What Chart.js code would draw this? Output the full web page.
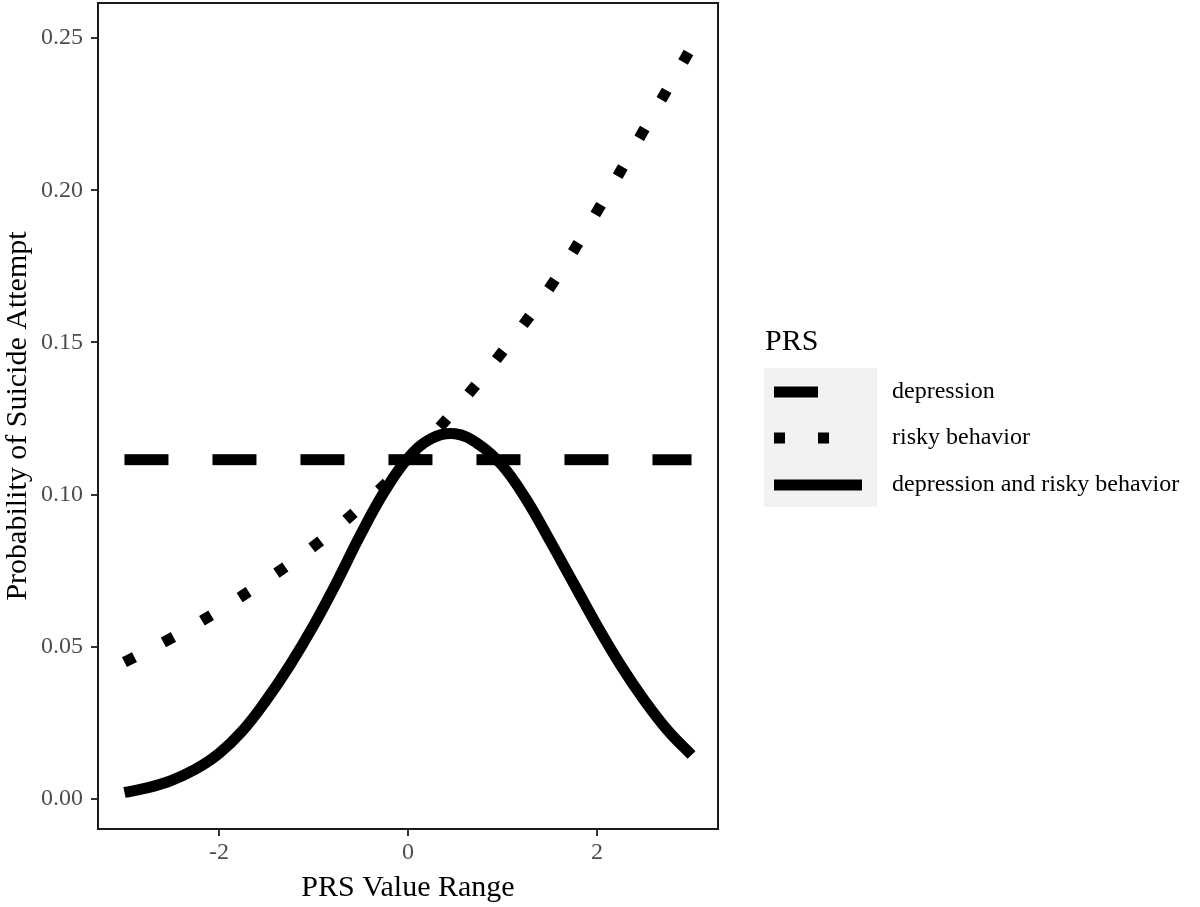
<!DOCTYPE html>
<html>
<head>
<meta charset="utf-8">
<script src="https://cdn.jsdelivr.net/npm/chart.js@4.4.1/dist/chart.umd.min.js"></script>
<style>
  html, body { margin: 0; padding: 0; background: #fff; }
  canvas { display: block; }
</style>
</head>
<body>
<canvas id="prsChart" width="1200" height="907"></canvas>
<script>
// values
const bothX = [-3, -2.75, -2.5, -2.25, -2, -1.75, -1.5, -1.25, -1, -0.75, -0.5, -0.25,
               0, 0.25, 0.5, 0.75, 1, 1.25, 1.5, 1.75, 2, 2.25, 2.5, 2.75, 3];
const bothValues = [0.0022, 0.0038, 0.0062, 0.0098, 0.0150, 0.0225, 0.0325, 0.044, 0.057, 0.0715, 0.087, 0.101,
                    0.112, 0.1185, 0.120, 0.1165, 0.1095, 0.0985, 0.085, 0.071, 0.057, 0.044, 0.0325, 0.0225, 0.0145];
const riskyX = [-3, -2.5, -2, -1.5, -1, -0.5, 0, 0.5, 1, 1.5, 2, 2.5, 3];
const riskyValues = [0.045, 0.053, 0.062, 0.072, 0.083, 0.096, 0.111, 0.128, 0.147, 0.168, 0.193, 0.220, 0.247];
const depressionX = [-3, 3];
const depressionValues = [0.1115, 0.1115];

const seriesLabels = ["depression", "risky behavior", "depression and risky behavior"];
const xTicks = [-2, 0, 2];
const yTicks = [0, 0.05, 0.10, 0.15, 0.20, 0.25];

const serif = '"Liberation Serif", "Times New Roman", serif';

function toPoints(xs, ys) {
    return xs.map((x, i) => ({ x: x, y: ys[i] }));
}

// full panel border, like theme_bw
const panelBorder = {
    id: "panelBorder",
    afterDraw(chart) {
        const { ctx, chartArea: a } = chart;
        ctx.save();
        ctx.strokeStyle = "#1a1a1a";
        ctx.lineWidth = 2;
        ctx.strokeRect(a.left, a.top, a.right - a.left, a.bottom - a.top);
        ctx.restore();
    }
};

// ggplot-style legend on the right
const sideLegend = {
    id: "sideLegend",
    afterDraw(chart) {
        const ctx = chart.ctx;
        ctx.save();
        ctx.fillStyle = "#000";
        ctx.font = "30px " + serif;
        ctx.textBaseline = "alphabetic";
        ctx.textAlign = "left";
        ctx.fillText("PRS", 765, 350);

        ctx.fillStyle = "#f2f2f2";
        ctx.fillRect(764, 368, 113, 139);

        const rows = [392, 438, 485];
        chart.data.datasets.forEach((ds, i) => {
            const y = rows[i];
            ctx.strokeStyle = ds.borderColor;
            ctx.lineWidth = ds.borderWidth;
            ctx.lineCap = "butt";
            ctx.setLineDash(ds.borderDash || []);
            ctx.beginPath();
            ctx.moveTo(774, y);
            ctx.lineTo(862, y);
            ctx.stroke();
            ctx.setLineDash([]);
            ctx.fillStyle = "#000";
            ctx.font = "24px " + serif;
            ctx.textBaseline = "middle";
            ctx.fillText(ds.label, 892, y);
        });
        ctx.restore();
    }
};

new Chart(document.getElementById("prsChart"), {
    type: "line",
    data: {
        datasets: [
            {
                label: seriesLabels[0],
                data: toPoints(depressionX, depressionValues),
                borderColor: "#000",
                borderWidth: 11,
                borderDash: [44, 44],
                borderCapStyle: "butt",
                pointRadius: 0
            },
            {
                label: seriesLabels[1],
                data: toPoints(riskyX, riskyValues),
                borderColor: "#000",
                borderWidth: 11,
                borderDash: [11, 33],
                borderCapStyle: "butt",
                tension: 0.4,
                pointRadius: 0
            },
            {
                label: seriesLabels[2],
                data: toPoints(bothX, bothValues),
                borderColor: "#000",
                borderWidth: 11,
                borderCapStyle: "butt",
                borderJoinStyle: "round",
                tension: 0.4,
                pointRadius: 0
            }
        ]
    },
    options: {
        responsive: false,
        animation: false,
        layout: { padding: { left: 0, right: 482, top: 3, bottom: 0 } },
        plugins: {
            legend: { display: false },
            tooltip: { enabled: false }
        },
        scales: {
            x: {
                type: "linear",
                min: -3.28,
                max: 3.28,
                afterBuildTicks: (scale) => { scale.ticks = xTicks.map((v) => ({ value: v })); },
                afterFit: (scale) => {
                    scale.height = 78;
                    scale.paddingLeft = 0;
                    scale.paddingRight = 0;
                },
                grid: { drawOnChartArea: false, drawTicks: true, tickLength: 7, color: "#333", lineWidth: 2 },
                border: { display: false },
                ticks: {
                    color: "#4d4d4d",
                    font: { family: serif, size: 24 },
                    padding: 2,
                    maxRotation: 0,
                    callback: (v) => String(v)
                },
                title: {
                    display: true,
                    text: "PRS Value Range",
                    color: "#000",
                    font: { family: serif, size: 30 },
                    padding: { top: 0, bottom: 1 }
                }
            },
            y: {
                min: -0.0098,
                max: 0.2615,
                afterBuildTicks: (scale) => { scale.ticks = yTicks.map((v) => ({ value: v })); },
                afterFit: (scale) => {
                    scale.width = 98;
                    scale.paddingTop = 0;
                    scale.paddingBottom = 0;
                },
                grid: { drawOnChartArea: false, drawTicks: true, tickLength: 7, color: "#333", lineWidth: 2 },
                border: { display: false },
                ticks: {
                    color: "#4d4d4d",
                    font: { family: serif, size: 24 },
                    padding: 8,
                    callback: (v) => v.toFixed(2)
                },
                title: {
                    display: true,
                    text: "Probability of Suicide Attempt",
                    color: "#000",
                    font: { family: serif, size: 30 },
                    padding: { top: 0, bottom: 0 }
                }
            }
        }
    },
    plugins: [panelBorder, sideLegend]
});
</script>
</body>
</html>
